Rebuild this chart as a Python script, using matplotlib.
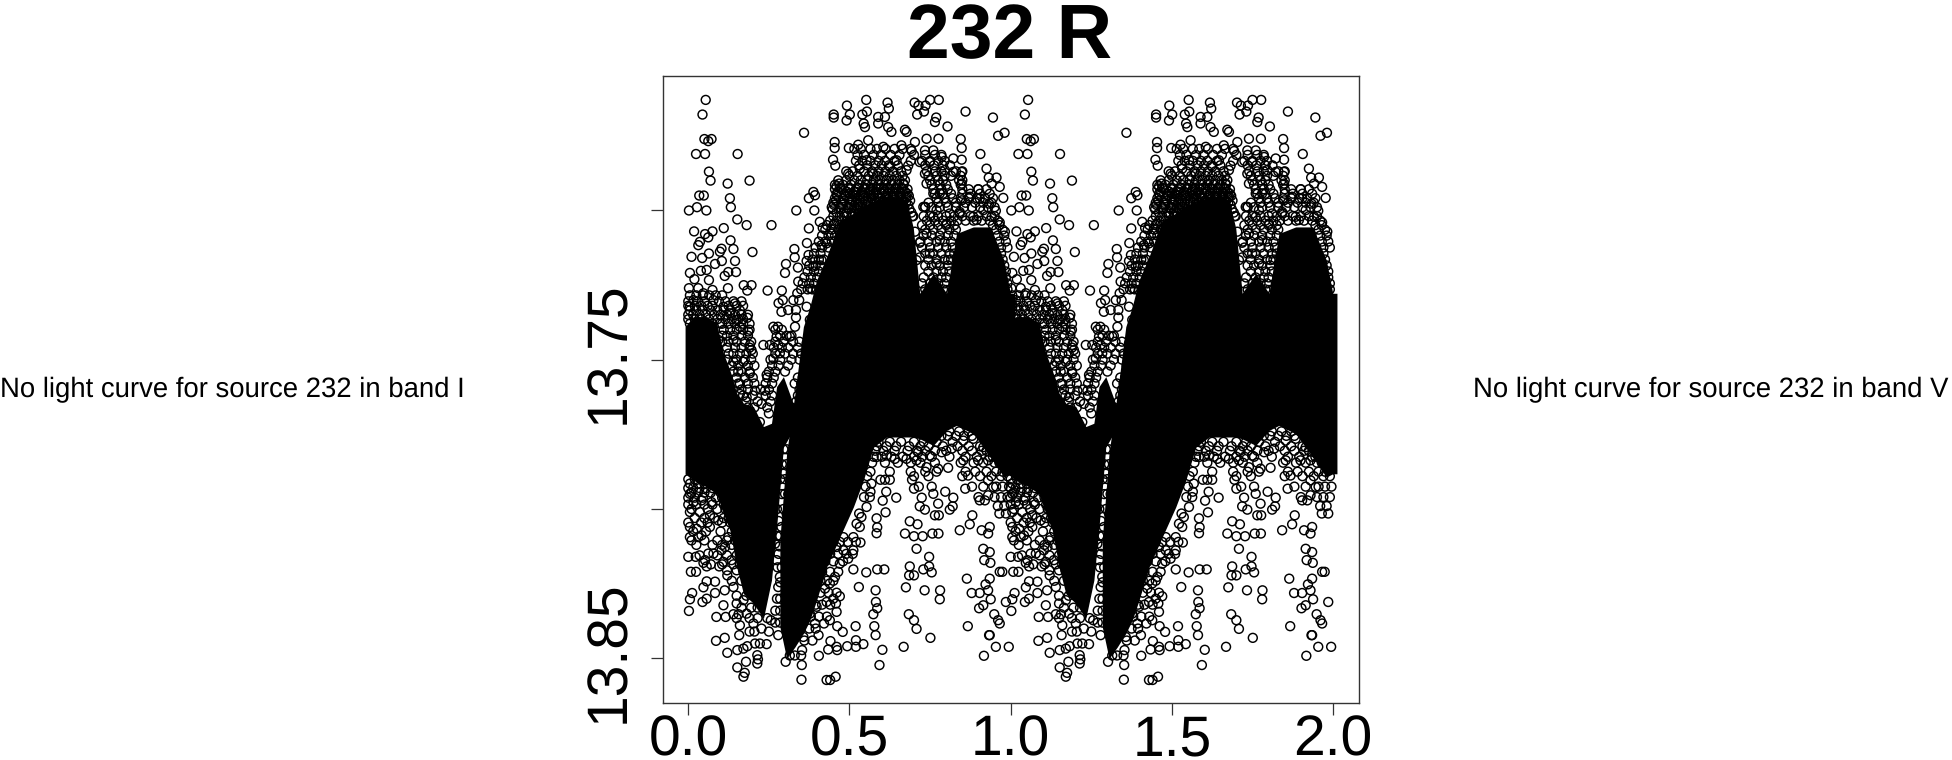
import numpy as np
import matplotlib
matplotlib.use('Agg')
import matplotlib.pyplot as plt

plt.rcParams['font.family'] = ['Liberation Sans', 'DejaVu Sans']
plt.rcParams['text.hinting'] = 'no_hinting'

# values, one period only (the plot shows phase and phase + 1)
phase_top = [
    .054, .044, .050, .072, .062, .024, .052, .153, .064, .069, .122, .190, .034, .048, .129, .132,
    .002, .027, .056, .152, .181, .110, .018, .075, .052, .062, .036, .131, .031, .103, .098, .140,
    .199, .010, .043, .064, .104, .145, .083, .005, .039, .057, .148, .124, .113, .019, .064, .002,
    .031, .123, .172, .196, .183, .075,
    .258, .359, .335, .391, .374, .388, .393, .374, .408, .417, .368, .329, .330, .303, .300, .340,
    .373, .367, .341, .246, .290, .338, .293, .280, .326, .344, .310, .289, .334, .334, .264, .278,
    .274, .233, .253, .279, .264, .243, .413, .388, .379,
    .451, .451, .492, .501, .491, .552, .540, .554, .544, .548, .618, .622, .589, .610, .702, .714,
    .736, .710, .731, .750, .777, .765, .769, .804, .860, .945, .961, .981, .845, .848, .906, .925,
    .932, .941, .899, .956, .966, .977, .954, .966, .982, .454, .454, .498, .449, .456, .672, .677,
    .703, .739, .776, .527, .558, .496, .460, .468, .532, .693, .661, .734, .760, .822, .848, .718,
    .749, .682, .822, .848, .734, .739, .848, .873, .904, .933, .734, .842, .453, .698, .703, .718,
    .718, .894,
    .589, .620, .630, .605, .646, .625, .677, .574, .553, .615, .667, .501, .522, .563, .620, .677,
    .786, .796, .780, .760, .811, .848, .915, .941, .770, .491, .532, .636,
    .005, .016, .047, .078, .109, .145, .129, .183, .150, .186, .098, .160, .140, .191, .196, .171,
    .140, .155, .191, .093, .284, .367, .377, .331, .315, .367, .398, .413, .429, .444, .729, .760,
    .801, .739, .780, .749, .770, .806, .801, .708, .842, .884,
]
mag_top = [
    13.6631, 13.6680, 13.6762, 13.6762, 13.6769, 13.6812, 13.6812, 13.6812, 13.6871, 13.6901, 13.6911, 13.6901, 13.6951, 13.6951, 13.6960, 13.6990,
    13.7001, 13.6990, 13.7001, 13.7031, 13.7050, 13.7060, 13.7071, 13.7071, 13.7080, 13.7091, 13.7106, 13.7101, 13.7117, 13.7129, 13.7139, 13.7130,
    13.7140, 13.7156, 13.7160, 13.7145, 13.7170, 13.7170, 13.7180, 13.7210, 13.7203, 13.7200, 13.7207, 13.7207, 13.7220, 13.7231, 13.7234, 13.7261,
    13.7261, 13.7261, 13.7251, 13.7251, 13.7269, 13.7267,
    13.7050, 13.6741, 13.7001, 13.7001, 13.6960, 13.6939, 13.6950, 13.7061, 13.7039, 13.7059, 13.7110, 13.7130, 13.7158, 13.7180, 13.7210, 13.7192,
    13.7150, 13.7170, 13.7239, 13.7269, 13.7269, 13.7278, 13.7301, 13.7311, 13.7301, 13.7301, 13.7334, 13.7340, 13.7334, 13.7359, 13.7390, 13.7390,
    13.7423, 13.7451, 13.7451, 13.7451, 13.7496, 13.7551, 13.7117, 13.7189, 13.7262,
    13.6680, 13.6690, 13.6650, 13.6680, 13.6700, 13.6631, 13.6680, 13.6670, 13.6710, 13.6722, 13.6640, 13.6660, 13.6688, 13.6688, 13.6640, 13.6650,
    13.6650, 13.6680, 13.6670, 13.6631, 13.6631, 13.6705, 13.6690, 13.6720, 13.6670, 13.6690, 13.6751, 13.6741, 13.6762, 13.6792, 13.6812, 13.6861,
    13.6891, 13.6911, 13.6930, 13.6891, 13.6922, 13.6959, 13.7002, 13.7041, 13.7072, 13.6772, 13.6792, 13.6792, 13.6831, 13.6851, 13.6731, 13.6738,
    13.6772, 13.6761, 13.6761, 13.6781, 13.6766, 13.6878, 13.6920, 13.6911, 13.6861, 13.6802, 13.6783, 13.6800, 13.6800, 13.6827, 13.6831, 13.6839,
    13.6839, 13.6851, 13.6872, 13.6872, 13.6878, 13.6911, 13.6911, 13.6955, 13.6961, 13.6978, 13.6989, 13.7011, 13.7045, 13.7020, 13.7072, 13.7109,
    13.7158, 13.7033,
    13.6710, 13.6722, 13.6738, 13.6788, 13.6833, 13.6855, 13.6866, 13.6878, 13.6833, 13.6900, 13.6911, 13.6944, 13.6939, 13.6933, 13.6944, 13.6955,
    13.6822, 13.6866, 13.6944, 13.6944, 13.7011, 13.6967, 13.7000, 13.7022, 13.7000, 13.7011, 13.6989, 13.6978,
    13.7323, 13.7301, 13.7278, 13.7301, 13.7323, 13.7312, 13.7345, 13.7360, 13.7367, 13.7406, 13.7379, 13.7390, 13.7434, 13.7451, 13.7468, 13.7507,
    13.7507, 13.7540, 13.7546, 13.7434, 13.7479, 13.7323, 13.7367, 13.7390, 13.7423, 13.7445, 13.7267, 13.7167, 13.7111, 13.7078, 13.6989, 13.7022,
    13.7045, 13.7078, 13.7100, 13.7145, 13.7178, 13.7167, 13.7267, 13.7167, 13.7006, 13.7022,
]

phase_low = [
    .002, .005, .012, .044, .057, .047, .057, .083, .083, .008, .024, .000, .023, .047, .057, .096,
    .121, .113, .109, .087, .116, .140, .156, .086, .113, .121, .152, .171, .183, .152, .179, .175,
    .171, .214, .216, .214, .207, .222, .243, .158, .202, .227, .256, .279, .302, .353, .352, .351,
    .405, .434, .460, .462, .493, .520, .520, .543, .429, .440, .457, .441, .404, .479, .462, .519,
    .439, .421, .393, .460, .458, .450, .470, .429, .529, .581, .582, .586, .574, .577, .581, .602,
    .593, .668, .751, .708, .700, .684, .675, .733, .781, .780, .687, .685, .700, .729, .747, .755,
    .747, .708, .672, .687, .711, .700, .727, .757, .776, .586, .608, .552, .512, .534, .584, .586,
    .584, .612, .603, .645, .614, .565, .596, .610, .625, .694, .700, .724, .718, .734, .760, .775,
    .765, .777, .797, .822, .820, .811, .842, .859, .873, .881, .904, .920, .910, .935, .930, .915,
    .935, .918, .937, .966, .864, .935, .922, .930, .879, .904, .938, .915, .902, .949, .961, .966,
    .867, .933, .954, .917, .994, .985, .974, .935,
    .005, .016, .041, .072, .005, .036, .067, .093, .005, .026, .041, .067, .005, .031, .062, .052,
    .078, .114, .124, .103, .109, .134, .140, .150, .171, .181, .160, .429, .460, .481, .512, .496,
    .470, .455, .439, .424, .398, .377, .357, .512, .532, .481, .563, .553, .537, .522, .568, .584,
    .615, .641, .677, .708, .739, .775, .806, .713, .749, .786, .817, .853, .884, .915, .853, .899,
    .930, .930, .868, .946, .930, .295, .300, .305, .289, .269, .274, .284, .279, .207, .238, .227,
    .222, .181, .160, .160,
]
mag_low = [
    13.8341, 13.8302, 13.8281, 13.8311, 13.8300, 13.8262, 13.8242, 13.8243, 13.8281, 13.8210, 13.8210, 13.8160, 13.8160, 13.8180, 13.8192, 13.8192,
    13.8222, 13.8272, 13.8322, 13.8361, 13.8361, 13.8352, 13.8352, 13.8441, 13.8431, 13.8481, 13.8472, 13.8467, 13.8459, 13.8530, 13.8511, 13.8548,
    13.8561, 13.8489, 13.8503, 13.8517, 13.8450, 13.8450, 13.8452, 13.8422, 13.8383, 13.8400, 13.8372, 13.8422, 13.8511, 13.8472, 13.8522, 13.8571,
    13.8491, 13.8470, 13.8461, 13.8472, 13.8459, 13.8439, 13.8461, 13.8452, 13.8572, 13.8572, 13.8561, 13.8442, 13.8422, 13.8411, 13.8392, 13.8392,
    13.8372, 13.8383, 13.8383, 13.8344, 13.8316, 13.8300, 13.8292, 13.8311, 13.8261, 13.8272, 13.8311, 13.8332, 13.8352, 13.8392, 13.8422, 13.8471,
    13.8522, 13.8461, 13.8431, 13.8401, 13.8372, 13.8352, 13.8262, 13.8272, 13.8272, 13.8302, 13.8192, 13.8222, 13.8222, 13.8202, 13.8192, 13.8212,
    13.8160, 13.8133, 13.8082, 13.8041, 13.8051, 13.8091, 13.8091, 13.8082, 13.8082, 13.8202, 13.8202, 13.8212, 13.8202, 13.8112, 13.8031, 13.8061,
    13.8081, 13.8011, 13.7972, 13.7962, 13.7942, 13.7942, 13.7902, 13.7902, 13.7902, 13.7902, 13.7932, 13.7962, 13.7991, 13.8002, 13.7949, 13.7982,
    13.8021, 13.8021, 13.7942, 13.7962, 13.7991, 13.8002, 13.8071, 13.7932, 13.8051, 13.8021, 13.7971, 13.7971, 13.8071, 13.8060, 13.8082, 13.8133,
    13.8144, 13.8171, 13.8180, 13.8210, 13.8233, 13.8233, 13.8252, 13.8272, 13.8281, 13.8281, 13.8302, 13.8322, 13.8332, 13.8352, 13.8372, 13.8383,
    13.8392, 13.8422, 13.8461, 13.8491, 13.8461, 13.8311, 13.8210, 13.8422,
    13.7949, 13.7977, 13.7971, 13.7977, 13.8010, 13.8010, 13.8021, 13.8038, 13.8060, 13.8066, 13.8088, 13.8060, 13.8094, 13.8094, 13.8149, 13.8171,
    13.8149, 13.8127, 13.8094, 13.8138, 13.8177, 13.8171, 13.8261, 13.8316, 13.8305, 13.8350, 13.8389, 13.8127, 13.8127, 13.8138, 13.8138, 13.8166,
    13.8183, 13.8227, 13.8249, 13.8266, 13.8327, 13.8350, 13.8428, 13.8094, 13.8060, 13.8094, 13.7960, 13.7993, 13.8027, 13.8049, 13.7915, 13.7826,
    13.7821, 13.7832, 13.7832, 13.7837, 13.7860, 13.7865, 13.7862, 13.7810, 13.7821, 13.7810, 13.7798, 13.7771, 13.7765, 13.7793, 13.7837, 13.7837,
    13.7837, 13.7904, 13.7888, 13.7926, 13.7954, 13.7882, 13.7949, 13.8016, 13.8060, 13.8116, 13.8171, 13.8227, 13.8261, 13.7604, 13.7604, 13.7648,
    13.7709, 13.7626, 13.7615, 13.7581,
]

# the crowded rims of the black mass, read row by row (magnitude, phases in that row)
rim_mags = [
    13.6795, 13.6815, 13.6835, 13.6850, 13.6870, 13.6885, 13.6900, 13.6915, 13.6930, 13.6945, 13.6960, 13.6975,
    13.6990, 13.7020, 13.7035, 13.7050, 13.7065, 13.7085, 13.7105, 13.7125, 13.7145, 13.7165, 13.7185, 13.7205,
    13.7225, 13.7245, 13.7265,
    13.7285, 13.7305, 13.7320, 13.7335, 13.7350, 13.7365, 13.7380, 13.7400, 13.7420, 13.7440, 13.7460, 13.7480,
    13.7500, 13.7520, 13.7540, 13.7560, 13.7580, 13.7600, 13.7620, 13.7640, 13.7660, 13.7680,
    13.7775, 13.7790, 13.7805, 13.7825, 13.7845, 13.7875, 13.7890, 13.7925, 13.7960, 13.7990, 13.8015,
    13.7900, 13.7915, 13.7930, 13.7945, 13.7962, 13.7985, 13.8000, 13.8030, 13.8045, 13.8075, 13.8105, 13.8120,
    13.8155, 13.8185, 13.8205, 13.8240, 13.8290, 13.8330, 13.8365, 13.8410,
    13.8110, 13.8150, 13.8175, 13.8210, 13.8240, 13.8280, 13.8320, 13.8360, 13.8400, 13.8440, 13.8490,
    13.7800, 13.7850, 13.7900, 13.7950, 13.8000, 13.8040, 13.8090,
    13.6925, 13.6938, 13.6952, 13.6968, 13.6982, 13.6997, 13.7008,
    13.7755, 13.7740, 13.8125, 13.8150, 13.8195, 13.8245, 13.8300, 13.8340, 13.8380,
]
rim_phases = [
    [.515, .535, .565, .585, .612, .640, .665, .690],
    [.525, .545, .575, .598, .628, .655, .700, .735, .765, .785],
    [.520, .540, .565, .590, .610, .640, .690, .725, .750, .775, .795],
    [.530, .555, .580, .600, .622, .650, .735, .762, .790, .812],
    [.490, .510, .545, .570, .590, .612, .635, .660, .740, .765, .785, .830, .850],
    [.500, .525, .560, .585, .605, .625, .645, .665, .745, .770, .795, .815, .845],
    [.465, .490, .515, .535, .555, .575, .595, .615, .635, .655, .672, .750, .775, .790, .840, .850],
    [.455, .480, .505, .530, .550, .570, .590, .610, .630, .650, .668, .755, .780, .800, .845],
    [.455, .475, .500, .520, .545, .565, .585, .605, .625, .645, .665, .680, .760, .785, .805, .850, .870, .900, .925],
    [.460, .485, .510, .535, .555, .575, .600, .620, .640, .660, .680, .765, .790, .815, .850, .875, .905, .935],
    [.455, .480, .500, .525, .545, .570, .590, .610, .635, .655, .675, .770, .795, .820, .845, .870, .895, .920, .945],
    [.450, .475, .500, .520, .540, .565, .585, .605, .630, .650, .675, .745, .775, .800, .830, .860, .890, .915, .940],
    [.445, .470, .495, .515, .535, .560, .580, .600, .625, .645, .670, .735, .755, .780, .805, .830, .855, .880, .905, .930, .950],
    [.450, .470, .490, .510, .695, .730, .750, .775, .800, .825, .850, .875, .900, .925, .950],
    [.440, .460, .480, .500, .740, .765, .790, .815, .835, .860, .885, .910, .935, .960],
    [.430, .450, .470, .490, .725, .750, .775, .800, .825, .945, .965],
    [.425, .445, .465, .735, .760, .785, .810, .830, .955, .975],
    [.415, .435, .455, .730, .755, .780, .805, .825, .960, .980],
    [.405, .425, .445, .720, .745, .770, .795, .815, .965, .985],
    [.395, .415, .435, .725, .750, .775, .800, .820, .970, .990],
    [.390, .410, .735, .760, .785, .810, .825, .970],
    [.385, .405, .420, .745, .770, .795, .815, .975],
    [.375, .395, .410, .735, .755, .780, .805, .980],
    [.370, .390, .405, .745, .770, .790, .810, .985],
    [.360, .380, .400, .730, .760, .785, .800, .985],
    [.355, .375, .390, .725, .750, .775, .795, .990],
    [.350, .370, .385, .735, .765, .790, .990],
    [.005, .025, .045, .065, .085, .105],
    [.000, .030, .050, .095, .115, .140, .165],
    [.000, .020, .040, .060, .075, .125, .150, .170],
    [.005, .025, .045, .070, .090, .110, .130, .160],
    [.000, .015, .035, .055, .080, .100, .120, .145, .165, .185],
    [.000, .020, .040, .065, .090, .115, .135, .155, .170],
    [.005, .030, .055, .075, .105, .125, .145, .170, .190],
    [.110, .130, .150, .170, .190, .270, .290],
    [.105, .120, .140, .165, .185, .285, .305, .320],
    [.105, .125, .150, .175, .195, .270, .295, .325, .345],
    [.120, .145, .165, .190, .265, .290, .310, .340],
    [.125, .140, .160, .180, .200, .270, .300, .325, .350],
    [.120, .150, .175, .195, .255, .285, .320, .345],
    [.135, .155, .185, .205, .260, .280, .310, .360],
    [.140, .165, .190, .250, .270, .300],
    [.150, .175, .200, .245, .265, .340, .355],
    [.155, .185, .205, .240, .260, .330, .350],
    [.165, .185, .225, .250, .345],
    [.170, .200, .240, .260, .340],
    [.180, .215, .255, .335],
    [.185, .205, .245, .320],
    [.195, .250],
    [.590, .625, .660, .700, .730, .770, .820],
    [.585, .615, .645, .685, .720, .745, .790, .835, .870, .905],
    [.580, .605, .640, .680, .710, .735, .765, .800, .850, .880, .910, .925],
    [.575, .600, .630, .665, .700, .725, .755, .810, .860, .895, .935, .945],
    [.570, .610, .650, .690, .720, .765, .845, .885, .915, .950, .965, .985],
    [.565, .625, .690, .735, .770, .860, .890, .925, .955, .975],
    [.555, .700, .745, .850, .905, .940, .970, .990],
    [.550, .715, .755, .880, .915, .955, .975, .995],
    [.545, .900, .950, .970, .990],
    [.960, .980],
    [.530, .965, .985],
    [.000, .020, .040, .060, .080],
    [.005, .030, .050, .070, .090],
    [.000, .015, .035, .055, .075, .095],
    [.010, .030, .050, .070, .100],
    [.000, .020, .045, .085, .105],
    [.000, .025, .050, .075, .110],
    [.010, .060, .090, .115],
    [.020, .050, .080, .110, .125],
    [.000, .040, .060, .105, .130],
    [.015, .055, .100, .135],
    [.010, .050, .090, .120, .145],
    [.025, .075, .105, .135],
    [.035, .090, .120, .150],
    [.070, .105, .140, .160],
    [.120, .150, .170],
    [.135, .165],
    [.150, .180, .200],
    [.165, .195, .215],
    [.150, .190, .215, .245],
    [.190, .205, .250],
    [.430, .450, .470, .495, .520],
    [.420, .440, .465, .490, .510],
    [.425, .450, .480],
    [.415, .440, .465],
    [.410, .430, .450],
    [.410, .435, .460],
    [.395, .415, .440],
    [.380, .405, .430],
    [.375, .395],
    [.360, .385],
    [.315, .330, .350],
    [.295, .305],
    [.290, .305],
    [.285, .300],
    [.290, .310],
    [.275, .295],
    [.280, .310],
    [.275, .285],
    [.470, .497, .528, .548, .572, .597, .618, .642, .662],
    [.465, .492, .515, .538, .562, .582, .608, .632, .652, .672],
    [.462, .488, .518, .542, .566, .588, .614, .638, .658, .684],
    [.458, .484, .508, .532, .556, .578, .602, .626, .648, .668, .688],
    [.452, .478, .504, .526, .552, .574, .596, .620, .642, .664, .682],
    [.448, .472, .498, .522, .546, .568, .592, .616, .640, .660, .686],
    [.460, .482, .506, .528, .692],
    [.785, .805, .830, .855, .880],
    [.810, .840, .870, .900],
    [.283],
    [.280],
    [.277, .290],
    [.285],
    [.275, .285],
    [.270, .285],
    [.270, .285],
]

# where the circles overlap to solid black: outline of the two lobes
lobe_a_phase = [-.010, .016, .057, .088, .109, .129, .150, .171, .202, .233, .258, .274, .295, .336]
lobe_a_upper = [13.7390, 13.7356, 13.7356, 13.7379, 13.7479, 13.7535, 13.7612, 13.7646, 13.7657, 13.7724, 13.7713, 13.7590, 13.7557, 13.7679]
lobe_a_lower = [13.7882, 13.7904, 13.7926, 13.7949, 13.8016, 13.8071, 13.8194, 13.8283, 13.8316, 13.8366, 13.8238, 13.8060, 13.7793, 13.7715]

lobe_b_phase = [.284, .305, .331, .357, .377, .398, .429, .470, .512, .543, .574, .615, .677, .698, .718, .760, .801, .832, .884, .937, .979, .999, 1.012]
lobe_b_upper = [13.8102, 13.7813, 13.7612, 13.7390, 13.7323, 13.7234, 13.7156, 13.7035, 13.7010, 13.6985, 13.6975, 13.6955, 13.6965, 13.7060, 13.7278, 13.7212, 13.7278, 13.7078, 13.7056, 13.7056, 13.7167, 13.7278, 13.7278]
lobe_b_lower = [13.8394, 13.8500, 13.8461, 13.8416, 13.8372, 13.8305, 13.8194, 13.8094, 13.7993, 13.7904, 13.7793, 13.7759, 13.7759, 13.7759, 13.7765, 13.7787, 13.7737, 13.7720, 13.7748, 13.7826, 13.7893, 13.7882, 13.7882]

x_ticks = [0.0, 0.5, 1.0, 1.5, 2.0]
x_labels = ['0.0', '0.5', '1.0', '1.5', '2.0']
y_ticks = [13.70, 13.75, 13.80, 13.85]
y_labels = ['', '13.75', '', '13.85']

W, H = 1952, 760
fig = plt.figure(figsize=(W / 100, H / 100), dpi=100)
ax = fig.add_axes([662.7 / W, 1 - 702.7 / H, (1359 - 662.7) / W, (702.7 - 76) / H])

rim_x = [p for row in rim_phases for p in row]
rim_y = [m for m, row in zip(rim_mags, rim_phases) for p in row]
phase = np.array(phase_top + phase_low + rim_x)
mag = np.array(mag_top + mag_low + rim_y)

for shift in [0, 1]:
    ax.fill_between(np.array(lobe_a_phase) + shift, lobe_a_upper, lobe_a_lower, color='black', lw=0)
    ax.fill_between(np.array(lobe_b_phase) + shift, lobe_b_upper, lobe_b_lower, color='black', lw=0)
    ax.scatter(phase + shift, mag, s=41, facecolors='none', edgecolors='black', linewidths=1.05)

ax.set_xlim(-0.0794, 2.0804)
ax.set_ylim(13.8648, 13.6551)
ax.set_xticks(x_ticks)
ax.set_xticklabels([])
ax.set_yticks(y_ticks)
ax.set_yticklabels([])
ax.tick_params(length=8.6, width=0.9, color='#333333')
for v, lab in zip(x_ticks, x_labels):
    ax.annotate(lab, xy=(v, 0), xycoords=('data', 'axes fraction'), xytext=(0, -37.7),
                textcoords='offset points', fontsize=41, ha='center', va='baseline')
for v, lab in zip(y_ticks, y_labels):
    ax.annotate(lab, xy=(0, v), xycoords=('axes fraction', 'data'), xytext=(-19.6, 5),
                textcoords='offset points', rotation=90, fontsize=41, ha='right', va='center')
for s in ax.spines.values():
    s.set_linewidth(1.0)
    s.set_color('#333333')

fig.text(1010 / W, 1 - 58.5 / H, '232 R', fontsize=55.4, fontweight='bold', ha='center', va='baseline')
fig.text(0 / W, 1 - 389.5 / H, 'No light curve for source 232 in band I', fontsize=19.8, ha='left', va='center')
fig.text(1948 / W, 1 - 389.5 / H, 'No light curve for source 232 in band V', fontsize=19.8, ha='right', va='center')

fig.savefig('out.png', dpi=100)
